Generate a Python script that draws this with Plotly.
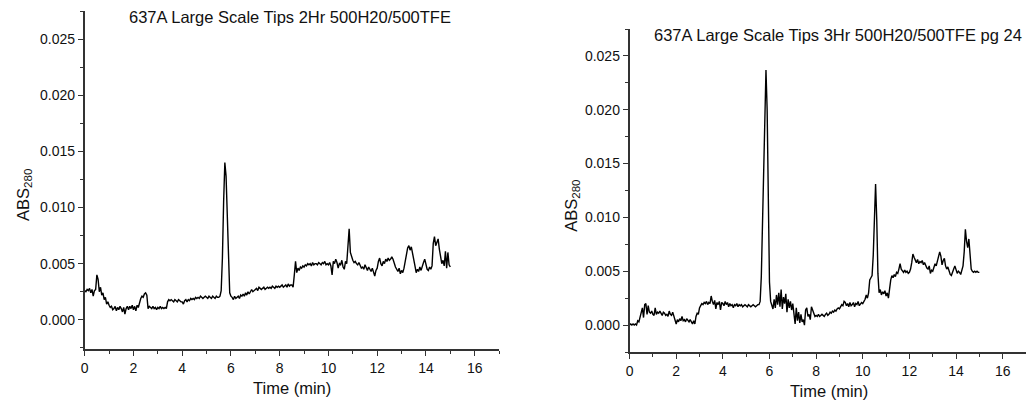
import numpy as np
import plotly.graph_objects as go

# Sampling times (min), every 0.05 min from 0 to 15
time_min = np.round(np.arange(0, 15.0001, 0.05), 2)

# Absorbance at 280 nm, 2 hr run
abs_2hr = [
    0.0026, 0.0025, 0.0027, 0.0026, 0.0028, 0.0024, 0.0027, 0.0021, 0.0026, 0.0027,
    0.0040, 0.0036, 0.0025, 0.0029, 0.0022, 0.0024, 0.0018, 0.0020, 0.0014, 0.0016,
    0.0013, 0.0011, 0.0012, 0.0009, 0.0010, 0.0012, 0.0008, 0.0011, 0.0009, 0.0012,
    0.0010, 0.0007, 0.0011, 0.0005, 0.0010, 0.0012, 0.0009, 0.0012, 0.0010, 0.0013,
    0.0009, 0.0012, 0.0008, 0.0013, 0.0011, 0.0016, 0.0019, 0.0021, 0.0020, 0.0023,
    0.0024, 0.0022, 0.0010, 0.0012, 0.0011, 0.0010, 0.0012, 0.0010, 0.0011, 0.0009,
    0.0011, 0.0010, 0.0012, 0.0010, 0.0011, 0.0010, 0.0011, 0.0010, 0.0016, 0.0018,
    0.0017, 0.0018, 0.0017, 0.0016, 0.0018, 0.0017, 0.0016, 0.0018, 0.0017, 0.0016,
    0.0016, 0.0014, 0.0017, 0.0018, 0.0016, 0.0018, 0.0017, 0.0019, 0.0018, 0.0019,
    0.0018, 0.0020, 0.0019, 0.0020, 0.0019, 0.0021, 0.0020, 0.0019, 0.0020, 0.0021,
    0.0020, 0.0019, 0.0021, 0.0020, 0.0019, 0.0021, 0.0020, 0.0019, 0.0021, 0.0020,
    0.0020, 0.0021, 0.0026, 0.0055, 0.0105, 0.0140, 0.0128, 0.0085, 0.0042, 0.0024,
    0.0021, 0.0020, 0.0018, 0.0021, 0.0019, 0.0020, 0.0021, 0.0019, 0.0022, 0.0021,
    0.0023, 0.0021, 0.0024, 0.0022, 0.0025, 0.0023, 0.0025, 0.0027, 0.0025, 0.0026,
    0.0027, 0.0028, 0.0026, 0.0029, 0.0028, 0.0027, 0.0028, 0.0029, 0.0027, 0.0028,
    0.0029, 0.0028, 0.0029, 0.0028, 0.0030, 0.0029, 0.0028, 0.0030, 0.0029, 0.0030,
    0.0029, 0.0030, 0.0031, 0.0029, 0.0030, 0.0031, 0.0029, 0.0032, 0.0030, 0.0031,
    0.0031, 0.0029, 0.0040, 0.0052, 0.0042, 0.0046, 0.0044, 0.0047, 0.0046, 0.0048,
    0.0047, 0.0049, 0.0048, 0.0050, 0.0049, 0.0050, 0.0048, 0.0051, 0.0049, 0.0050,
    0.0050, 0.0049, 0.0051, 0.0050, 0.0049, 0.0051, 0.0050, 0.0052, 0.0049, 0.0050,
    0.0049, 0.0051, 0.0048, 0.0040, 0.0052, 0.0050, 0.0054, 0.0051, 0.0046, 0.0050,
    0.0049, 0.0053, 0.0047, 0.0045, 0.0052, 0.0050, 0.0064, 0.0081, 0.0060, 0.0055,
    0.0053, 0.0051, 0.0052, 0.0050, 0.0049, 0.0051, 0.0048, 0.0046, 0.0047, 0.0045,
    0.0049, 0.0046, 0.0044, 0.0047, 0.0045, 0.0043, 0.0046, 0.0041, 0.0039, 0.0044,
    0.0046, 0.0052, 0.0055, 0.0050, 0.0048, 0.0052, 0.0050, 0.0054, 0.0052, 0.0055,
    0.0053, 0.0054, 0.0056, 0.0054, 0.0050, 0.0047, 0.0045, 0.0043, 0.0046, 0.0041,
    0.0044, 0.0042, 0.0046, 0.0052, 0.0060, 0.0064, 0.0066, 0.0062, 0.0065, 0.0060,
    0.0056, 0.0048, 0.0042, 0.0045, 0.0043, 0.0047, 0.0044, 0.0049, 0.0051, 0.0054,
    0.0048, 0.0045, 0.0044, 0.0047, 0.0045, 0.0048, 0.0068, 0.0074, 0.0066, 0.0070,
    0.0072, 0.0063, 0.0056, 0.0050, 0.0053, 0.0048, 0.0061, 0.0046, 0.0060, 0.0049,
    0.0047,
]

# Absorbance at 280 nm, 3 hr run
abs_3hr = [
    0.0000, 0.0001, 0.0000, 0.0001, 0.0000, 0.0001, 0.0000, 0.0004, 0.0003, 0.0008,
    0.0012, 0.0016, 0.0007, 0.0019, 0.0020, 0.0010, 0.0018, 0.0012, 0.0011, 0.0013,
    0.0010, 0.0009, 0.0016, 0.0010, 0.0012, 0.0011, 0.0013, 0.0010, 0.0009, 0.0012,
    0.0011, 0.0009, 0.0010, 0.0008, 0.0013, 0.0010, 0.0009, 0.0012, 0.0008, 0.0006,
    0.0001, 0.0005, 0.0003, 0.0006, 0.0004, 0.0008, 0.0004, 0.0005, 0.0003, 0.0006,
    0.0004, 0.0003, 0.0005, 0.0002, 0.0001, 0.0004, 0.0001, 0.0008, 0.0011, 0.0010,
    0.0016, 0.0018, 0.0020, 0.0019, 0.0021, 0.0020, 0.0022, 0.0019, 0.0021, 0.0020,
    0.0027, 0.0022, 0.0019, 0.0023, 0.0015, 0.0021, 0.0019, 0.0022, 0.0014, 0.0021,
    0.0020, 0.0018, 0.0022, 0.0019, 0.0021, 0.0017, 0.0020, 0.0018, 0.0019, 0.0016,
    0.0019, 0.0018, 0.0020, 0.0017, 0.0019, 0.0018, 0.0019, 0.0017, 0.0018, 0.0019,
    0.0018, 0.0017, 0.0019, 0.0018, 0.0017, 0.0018, 0.0019, 0.0018, 0.0017, 0.0018,
    0.0019, 0.0019, 0.0022, 0.0045, 0.0095, 0.0160, 0.0215, 0.0237, 0.0200, 0.0110,
    0.0040, 0.0022, 0.0018, 0.0015, 0.0024, 0.0016, 0.0028, 0.0019, 0.0030, 0.0017,
    0.0033, 0.0015, 0.0026, 0.0020, 0.0029, 0.0012, 0.0024, 0.0016, 0.0022, 0.0014,
    0.0020, 0.0011, 0.0001, 0.0016, 0.0004, 0.0012, 0.0002, 0.0010, 0.0003, 0.0005,
    0.0000, 0.0014, 0.0016, 0.0008, 0.0010, 0.0005, 0.0017, 0.0014, 0.0010, 0.0008,
    0.0009, 0.0008, 0.0010, 0.0008, 0.0009, 0.0010, 0.0009, 0.0008, 0.0010, 0.0011,
    0.0009, 0.0010, 0.0012, 0.0011, 0.0013, 0.0012, 0.0014, 0.0013, 0.0015, 0.0016,
    0.0015, 0.0017, 0.0019, 0.0018, 0.0022, 0.0021, 0.0018, 0.0020, 0.0017, 0.0021,
    0.0018, 0.0019, 0.0021, 0.0017, 0.0020, 0.0019, 0.0022, 0.0018, 0.0020, 0.0021,
    0.0020, 0.0022, 0.0024, 0.0028, 0.0025, 0.0030, 0.0042, 0.0044, 0.0046, 0.0065,
    0.0112, 0.0131, 0.0098, 0.0048, 0.0030, 0.0033, 0.0028, 0.0031, 0.0029, 0.0032,
    0.0027, 0.0030, 0.0025, 0.0036, 0.0042, 0.0046, 0.0044, 0.0047, 0.0045, 0.0049,
    0.0048, 0.0052, 0.0057, 0.0052, 0.0050, 0.0049, 0.0051, 0.0049, 0.0050, 0.0048,
    0.0049, 0.0052, 0.0058, 0.0066, 0.0063, 0.0060, 0.0058, 0.0061, 0.0057, 0.0059,
    0.0058, 0.0060, 0.0056, 0.0058, 0.0055, 0.0053, 0.0052, 0.0055, 0.0048, 0.0051,
    0.0050, 0.0053, 0.0057, 0.0055, 0.0060, 0.0063, 0.0068, 0.0064, 0.0056, 0.0060,
    0.0062, 0.0055, 0.0052, 0.0054, 0.0050, 0.0047, 0.0046, 0.0050, 0.0052, 0.0055,
    0.0052, 0.0048, 0.0050, 0.0049, 0.0047, 0.0052, 0.0055, 0.0068, 0.0089, 0.0078,
    0.0072, 0.0080, 0.0066, 0.0052, 0.0050, 0.0049, 0.0050, 0.0049, 0.0050, 0.0049,
    0.0049,
]

panel_titles = [
    "637A Large Scale Tips 2Hr 500H20/500TFE",
    "637A Large Scale Tips 3Hr 500H20/500TFE pg 24",
]
x_title = "Time (min)"
y_title = "ABS<sub>280</sub>"

FONT = "Arial, Liberation Sans, Helvetica, sans-serif"
W, H = 1026, 403


def px(x, y):
    """Pixel position -> paper coordinates."""
    return x / W, 1 - y / H


fig = go.Figure()
fig.add_trace(go.Scatter(x=time_min, y=abs_2hr, mode="lines",
                         line=dict(color="black", width=1.4),
                         xaxis="x", yaxis="y", showlegend=False))
fig.add_trace(go.Scatter(x=time_min, y=abs_3hr, mode="lines",
                         line=dict(color="black", width=1.4),
                         xaxis="x2", yaxis="y2", showlegend=False))

axis_common = dict(
    showline=True, linecolor="#333", linewidth=1.6, mirror=False,
    showgrid=False, zeroline=False,
    ticks="outside", ticklen=5, tickwidth=1.2, tickcolor="#333",
    tickfont=dict(family=FONT, size=14, color="#111"),
)

xcommon = dict(axis_common, range=[0, 17], tick0=0, dtick=2,
               minor=dict(ticks="outside", dtick=1, ticklen=3, tickwidth=1.2,
                          tickcolor="#333"))
ycommon = dict(axis_common, tick0=0, dtick=0.005, tickformat=".3f",
               minor=dict(ticks="outside", dtick=0.0025, ticklen=3, tickwidth=1.2,
                          tickcolor="#333"))

fig.update_layout(
    width=W, height=H,
    margin=dict(l=0, r=0, t=0, b=0),
    paper_bgcolor="white", plot_bgcolor="white",
    xaxis=dict(xcommon, domain=[81 / W, 497 / W], anchor="y"),
    yaxis=dict(ycommon, domain=[(H - 349) / H, (H - 11) / H], anchor="x",
               range=[-0.0026, 0.0275]),
    xaxis2=dict(xcommon, domain=[628 / W, 1.0], anchor="y2"),
    yaxis2=dict(ycommon, domain=[(H - 352) / H, (H - 29) / H], anchor="x2",
                range=[-0.0025, 0.0275]),
)

annotations = []
# panel titles
for text, (cx, cy) in zip(panel_titles, [(287, 17), (837, 35)]):
    ax, ay = px(cx, cy)
    annotations.append(dict(text=text, x=ax, y=ay, xref="paper", yref="paper",
                            xanchor="center", yanchor="middle", showarrow=False,
                            font=dict(family=FONT, size=16.5, color="#111")))
# x-axis titles
for cx, cy in [(289, 388), (828, 391)]:
    ax, ay = px(cx, cy)
    annotations.append(dict(text=x_title, x=ax, y=ay, xref="paper", yref="paper",
                            xanchor="center", yanchor="middle", showarrow=False,
                            font=dict(family=FONT, size=16.5, color="#111")))
# y-axis titles
for cx, cy in [(20, 195), (570, 206)]:
    ax, ay = px(cx, cy)
    annotations.append(dict(text=y_title, x=ax, y=ay, xref="paper", yref="paper",
                            xanchor="center", yanchor="middle", showarrow=False,
                            textangle=-90,
                            font=dict(family=FONT, size=16.5, color="#111")))
fig.update_layout(annotations=annotations)

fig.write_html("out.html")
